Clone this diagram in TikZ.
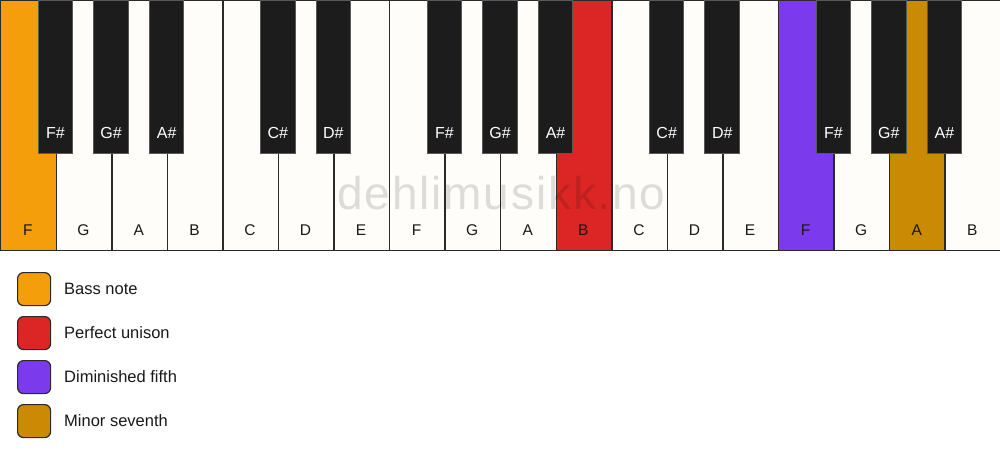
\documentclass[tikz,border=0pt]{standalone}
\usepackage{fontspec}
\setmainfont{Liberation Sans}
\newfontfamily\wmfont[LetterSpace=4]{Liberation Sans}
\definecolor{keywhite}{HTML}{FFFDF9}
\definecolor{keyblack}{HTML}{1C1C1C}
\definecolor{keyborder}{HTML}{2A2A2A}
\definecolor{bassc}{HTML}{F59E0B}
\definecolor{unisonc}{HTML}{DC2626}
\definecolor{dimc}{HTML}{7C3AED}
\definecolor{minc}{HTML}{CA8A04}
\tikzset{
  whitekey/.style={draw=keyborder, line width=1.4pt, fill=keywhite, minimum width=55.556pt, minimum height=250pt, inner sep=0pt, anchor=north west},
  blackkey/.style={draw=black!65, line width=1pt, fill=keyblack, minimum width=34.5pt, minimum height=153pt, inner sep=0pt, anchor=north},
  wlabel/.style={font=\fontsize{15.5}{18}\selectfont, text=black!90},
  blabel/.style={font=\fontsize{16}{19}\selectfont, text=white},
  legbox/.style={draw=keyborder, line width=1.2pt, rounded corners=6pt, minimum width=33pt, minimum height=33pt, inner sep=0pt, anchor=north west},
  legtext/.style={font=\fontsize{16.5}{19}\selectfont, anchor=west, inner sep=0pt, text=black!90},
}
\begin{document}
\begin{tikzpicture}[x=1pt,y=-1pt]
\useasboundingbox[fill=white] (0,0) rectangle (1000,461);
\def\w{55.556}
% white keys
\foreach \i/\n/\c in {0/F/bassc,1/G/keywhite,2/A/keywhite,3/B/keywhite,4/C/keywhite,5/D/keywhite,6/E/keywhite,7/F/keywhite,8/G/keywhite,9/A/keywhite,10/B/unisonc,11/C/keywhite,12/D/keywhite,13/E/keywhite,14/F/dimc,15/G/keywhite,16/A/minc,17/B/keywhite}{
  \node[whitekey, fill=\c] (w\i) at ({\i*\w},0) {};
  \node[wlabel] (wl\i) at ({(\i+0.5)*\w},230) {\n};
}
% watermark
\node[font=\wmfont\fontsize{46}{52}\selectfont, text=black, text opacity=0.13] (wm) at (501.5,193) {dehlimusikk.no};
% black keys
\foreach \i/\n in {0/F\#,1/G\#,2/A\#,4/C\#,5/D\#,7/F\#,8/G\#,9/A\#,11/C\#,12/D\#,14/F\#,15/G\#,16/A\#}{
  \node[blackkey] (b\i) at ({(\i+1)*\w},0) {};
  \node[blabel] (bl\i) at ({(\i+1)*\w},133) {\n};
}
% legend
\node[legbox, fill=bassc] (l1) at (17,272) {};
\node[legtext] (t1) at (64,289) {Bass note};
\node[legbox, fill=unisonc] (l2) at (17,316) {};
\node[legtext] (t2) at (64,333) {Perfect unison};
\node[legbox, fill=dimc] (l3) at (17,360) {};
\node[legtext] (t3) at (64,377) {Diminished fifth};
\node[legbox, fill=minc] (l4) at (17,404) {};
\node[legtext] (t4) at (64,421) {Minor seventh};
\end{tikzpicture}
\end{document}
